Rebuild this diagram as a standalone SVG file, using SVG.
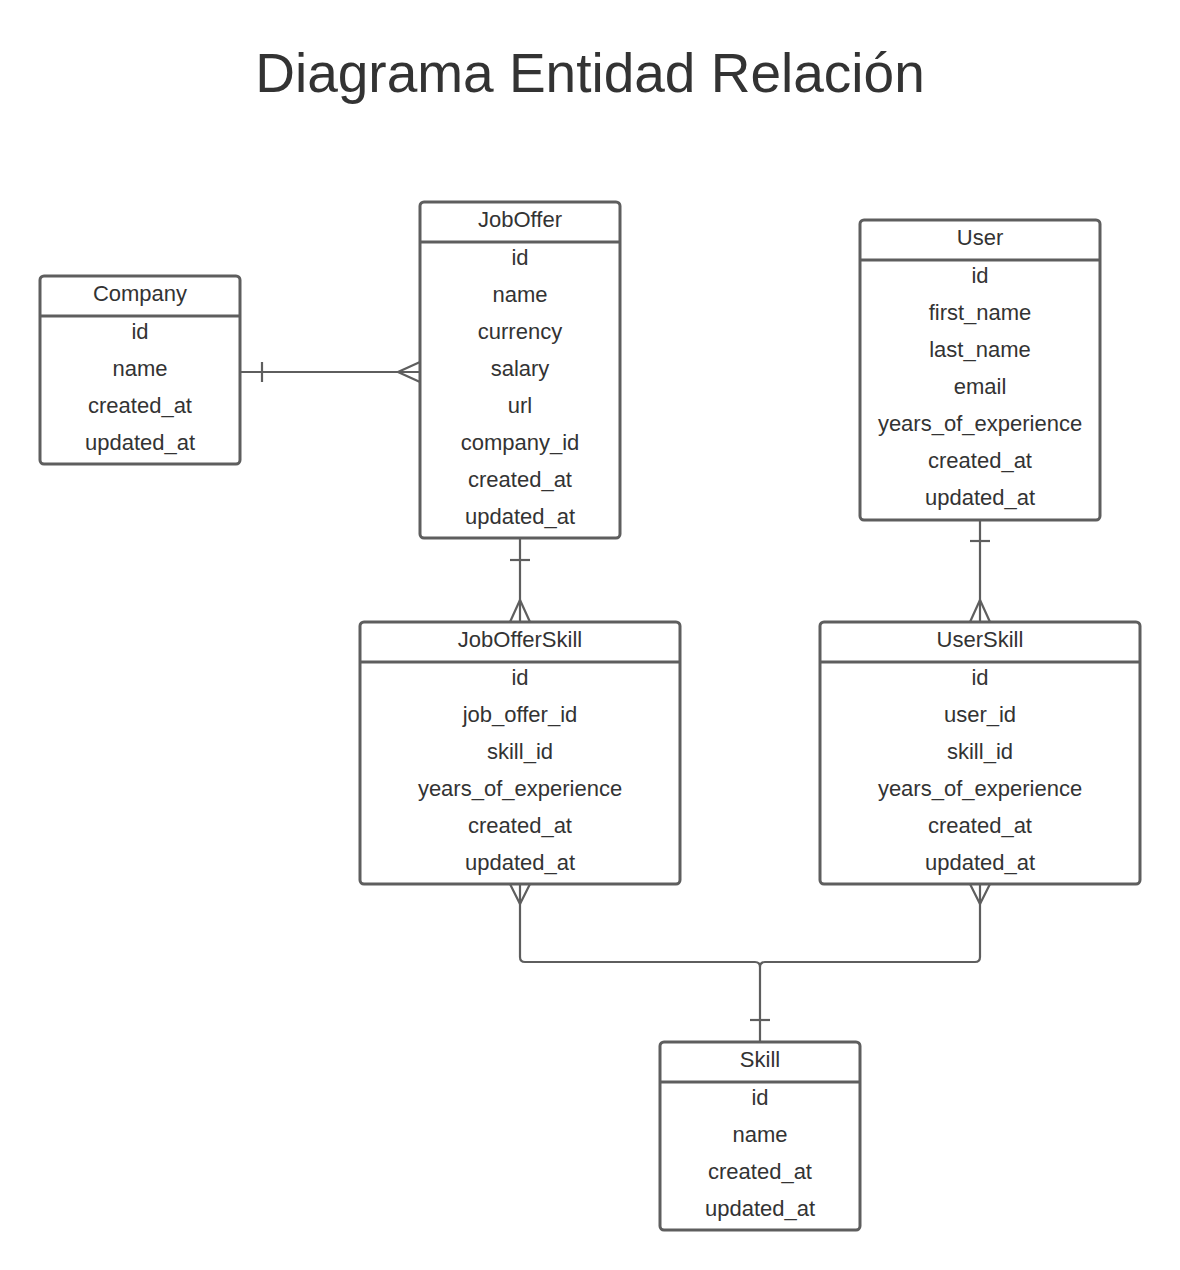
<svg xmlns="http://www.w3.org/2000/svg" width="1180" height="1270" viewBox="0 0 1180 1270">
<style>
.box{fill:#ffffff;stroke:#5e5e5e;stroke-width:3}
.sep{stroke:#5e5e5e;stroke-width:3}
.t{font-family:"Liberation Sans",Arial,sans-serif;font-size:22px;fill:#333333;text-anchor:middle}
.title{font-family:"Liberation Sans",Arial,sans-serif;font-size:55px;fill:#333333;text-anchor:middle}
.ln{fill:none;stroke:#5e5e5e;stroke-width:2.2;stroke-linejoin:round}
</style>
<rect width="1180" height="1270" fill="#ffffff"/>
<text class="title" x="590" y="92">Diagrama Entidad Relación</text>

<g id="connectors">
  <path class="ln" d="M240,372 H420"/>
  <path class="ln" d="M262,362 V382"/>
  <path class="ln" d="M420,362 L398,372 L420,382"/>

  <path class="ln" d="M520,538 V622"/>
  <path class="ln" d="M510,560 H530"/>
  <path class="ln" d="M510,622 L520,600 L530,622"/>

  <path class="ln" d="M980,520 V622"/>
  <path class="ln" d="M970,541 H990"/>
  <path class="ln" d="M970,622 L980,600 L990,622"/>

  <path class="ln" d="M520,884 V957 Q520,962 525,962 H755 Q760,962 760,967 V1042"/>
  <path class="ln" d="M980,884 V957 Q980,962 975,962 H765 Q760,962 760,967"/>
  <path class="ln" d="M510,884 L520,904 L530,884"/>
  <path class="ln" d="M970,884 L980,904 L990,884"/>
  <path class="ln" d="M750,1020 H770"/>
</g>

<g id="company">
  <rect class="box" x="40" y="276" width="200" height="188" rx="4"/>
  <line class="sep" x1="40" y1="316" x2="240" y2="316"/>
  <text class="t" x="140" y="301">Company</text>
  <text class="t" x="140" y="339">id</text>
  <text class="t" x="140" y="376">name</text>
  <text class="t" x="140" y="413">created_at</text>
  <text class="t" x="140" y="450">updated_at</text>
</g>

<g id="joboffer">
  <rect class="box" x="420" y="202" width="200" height="336" rx="4"/>
  <line class="sep" x1="420" y1="242" x2="620" y2="242"/>
  <text class="t" x="520" y="227">JobOffer</text>
  <text class="t" x="520" y="265">id</text>
  <text class="t" x="520" y="302">name</text>
  <text class="t" x="520" y="339">currency</text>
  <text class="t" x="520" y="376">salary</text>
  <text class="t" x="520" y="413">url</text>
  <text class="t" x="520" y="450">company_id</text>
  <text class="t" x="520" y="487">created_at</text>
  <text class="t" x="520" y="524">updated_at</text>
</g>

<g id="user">
  <rect class="box" x="860" y="220" width="240" height="300" rx="4"/>
  <line class="sep" x1="860" y1="260" x2="1100" y2="260"/>
  <text class="t" x="980" y="245">User</text>
  <text class="t" x="980" y="283">id</text>
  <text class="t" x="980" y="320">first_name</text>
  <text class="t" x="980" y="357">last_name</text>
  <text class="t" x="980" y="394">email</text>
  <text class="t" x="980" y="431">years_of_experience</text>
  <text class="t" x="980" y="468">created_at</text>
  <text class="t" x="980" y="505">updated_at</text>
</g>

<g id="jobofferskill">
  <rect class="box" x="360" y="622" width="320" height="262" rx="4"/>
  <line class="sep" x1="360" y1="662" x2="680" y2="662"/>
  <text class="t" x="520" y="647">JobOfferSkill</text>
  <text class="t" x="520" y="685">id</text>
  <text class="t" x="520" y="722">job_offer_id</text>
  <text class="t" x="520" y="759">skill_id</text>
  <text class="t" x="520" y="796">years_of_experience</text>
  <text class="t" x="520" y="833">created_at</text>
  <text class="t" x="520" y="870">updated_at</text>
</g>

<g id="userskill">
  <rect class="box" x="820" y="622" width="320" height="262" rx="4"/>
  <line class="sep" x1="820" y1="662" x2="1140" y2="662"/>
  <text class="t" x="980" y="647">UserSkill</text>
  <text class="t" x="980" y="685">id</text>
  <text class="t" x="980" y="722">user_id</text>
  <text class="t" x="980" y="759">skill_id</text>
  <text class="t" x="980" y="796">years_of_experience</text>
  <text class="t" x="980" y="833">created_at</text>
  <text class="t" x="980" y="870">updated_at</text>
</g>

<g id="skill">
  <rect class="box" x="660" y="1042" width="200" height="188" rx="4"/>
  <line class="sep" x1="660" y1="1082" x2="860" y2="1082"/>
  <text class="t" x="760" y="1067">Skill</text>
  <text class="t" x="760" y="1105">id</text>
  <text class="t" x="760" y="1142">name</text>
  <text class="t" x="760" y="1179">created_at</text>
  <text class="t" x="760" y="1216">updated_at</text>
</g>
</svg>
